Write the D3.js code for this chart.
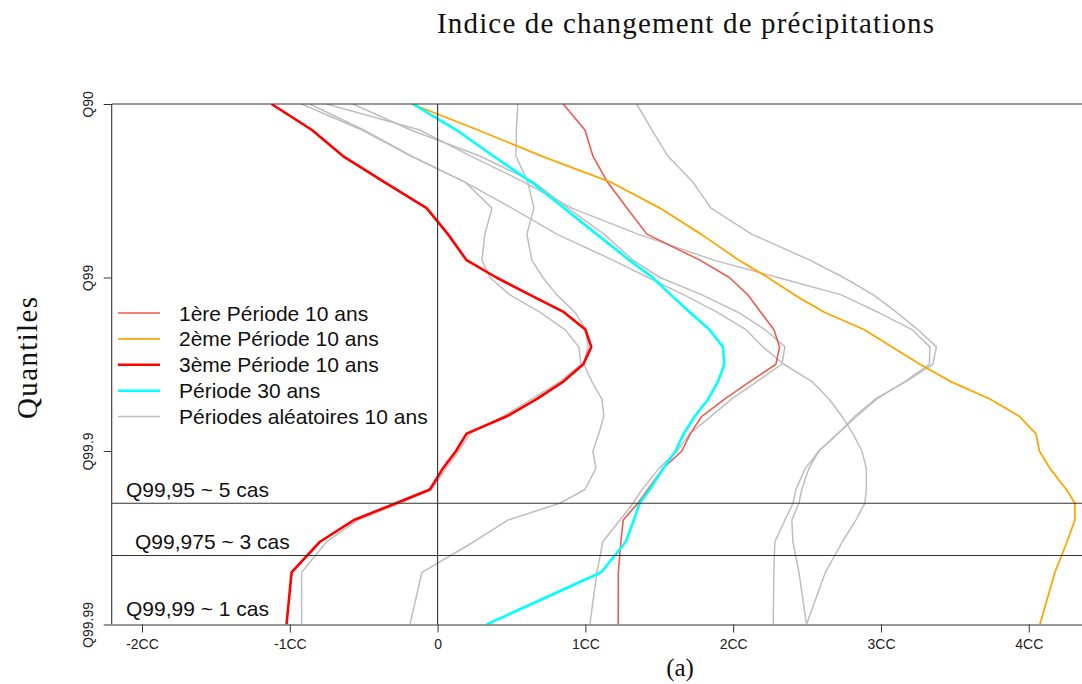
<!DOCTYPE html>
<html><head><meta charset="utf-8">
<script src="https://cdn.jsdelivr.net/npm/d3@7"></script>
<style>
html,body{margin:0;padding:0;background:#fff;}
svg text{font-family:"Liberation Sans",Arial,sans-serif;}
.serif{font-family:"Liberation Serif","Times New Roman",serif !important;}
</style></head>
<body>
<svg id="chart" width="1082" height="684"></svg>
<script>
// quantile levels expressed as -log10(1 - p)  (1 = Q90, 2 = Q99, 3 = Q99.9, 4 = Q99.99)
const levels = [1.0,1.15,1.3,1.45,1.6,1.75,1.9,2.0,2.1,2.2,2.3,2.4,2.5,2.6,2.7,2.8,2.9,3.0,3.1,3.222,3.301,3.398,3.523,3.699,4.0];

// change index (in CC units) at each level
const periode1 = [0.850,0.997,1.051,1.149,1.281,1.416,1.775,1.974,2.099,2.186,2.275,2.314,2.289,2.113,1.944,1.788,1.710,1.653,1.525,1.423,1.355,1.256,1.240,1.223,1.222];
const periode2 = [-0.174,0.273,0.704,1.170,1.504,1.782,2.039,2.235,2.414,2.617,2.884,3.075,3.263,3.473,3.737,3.936,4.048,4.072,4.143,4.254,4.312,4.312,4.259,4.177,4.075];
const periode3 = [-1.124,-0.850,-0.640,-0.360,-0.074,0.070,0.196,0.398,0.625,0.855,1.000,1.040,0.986,0.851,0.672,0.469,0.196,0.125,0.036,-0.052,-0.282,-0.566,-0.796,-0.988,-1.022];
const periode30 = [-0.167,0.128,0.377,0.635,0.855,1.075,1.298,1.455,1.579,1.707,1.839,1.930,1.940,1.897,1.832,1.740,1.666,1.610,1.528,1.436,1.367,1.328,1.274,1.108,0.332];

// random 10-year periods
const alea1 = [1.347,1.451,1.558,1.727,1.850,2.124,2.519,2.747,2.949,3.104,3.249,3.375,3.351,3.168,2.962,2.823,2.708,2.580,2.488,2.424,2.405,2.350,2.282,2.275,2.271];
const alea2 = [-0.751,-0.120,0.225,0.584,0.909,1.355,1.869,2.302,2.733,2.979,3.209,3.331,3.327,3.161,2.973,2.836,2.708,2.580,2.512,2.464,2.445,2.397,2.404,2.445,2.496];
const alea3 = [-0.920,-0.512,-0.181,0.185,0.503,0.807,1.186,1.423,1.667,1.890,2.086,2.201,2.343,2.533,2.648,2.736,2.810,2.871,2.901,2.901,2.891,2.830,2.739,2.624,2.496];
const alea4 = [-0.573,-0.181,0.286,0.652,0.882,1.126,1.322,1.504,1.789,2.032,2.215,2.350,2.329,2.160,1.991,1.849,1.707,1.619,1.498,1.383,1.322,1.234,1.118,1.078,1.030];
const alea5 = [0.543,0.533,0.530,0.611,0.652,0.604,0.638,0.712,0.807,0.929,1.003,1.017,0.990,1.044,1.111,1.125,1.091,1.051,1.071,0.997,0.827,0.476,0.246,-0.106,-0.187];
const alea6 = [-0.864,-0.499,-0.174,0.185,0.368,0.320,0.300,0.354,0.489,0.692,0.861,0.956,0.970,0.828,0.638,0.442,0.219,0.144,0.056,-0.039,-0.255,-0.539,-0.751,-0.920,-0.920];

const xTicks = [-2,-1,0,1,2,3,4];
const xTickLabels = ["-2CC","-1CC","0","1CC","2CC","3CC","4CC"];
const yTicks = [1,2,3,4];
const yTickLabels = ["Q90","Q99","Q99.9","Q99.99"];
const refLevels = [3.301, 3.602];
const refLabels = ["Q99,95 ~ 5 cas","Q99,975 ~ 3 cas","Q99,99 ~ 1 cas"];
const legendLabels = ["1ère Période 10 ans","2ème Période 10 ans","3ème Période 10 ans","Période 30 ans","Périodes aléatoires 10 ans"];
const legendColors = ["#EE5A52","#FFA500","#FF0000","#00FFFF","#BEBEBE"];
const legendWidths = [1.6,1.8,2.6,2.6,1.5];

const svg = d3.select("#chart");
const L = 111.7, R = 1082, T = 104, B = 624.5;
const x = d3.scaleLinear().domain([-2.205, 4.4]).range([L, 1087.9]);
const y = d3.scaleLinear().domain([1, 4]).range([T, B]);

svg.append("defs").append("clipPath").attr("id","clip")
  .append("rect").attr("x",L).attr("y",T).attr("width",R-L).attr("height",B-T);

const line = d3.line().x(d => x(d[0])).y(d => y(d[1]));
const g = svg.append("g").attr("clip-path","url(#clip)");

function draw(vals, color, w){
  g.append("path").datum(vals.map((v,i)=>[v, levels[i]]))
    .attr("d", line).attr("fill","none").attr("stroke",color)
    .attr("stroke-width", w).attr("stroke-linejoin","round");
}
[alea1,alea2,alea3,alea4,alea5,alea6].forEach(a => draw(a, "#BEBEBE", 1.5));
draw(periode1, legendColors[0], 1.6);
draw(periode2, legendColors[1], 1.8);
draw(periode3, legendColors[2], 2.6);
draw(periode30, legendColors[3], 2.6);

// frame and reference lines
const ax = svg.append("g").attr("stroke","#333").attr("stroke-width",1.1);
ax.append("line").attr("x1",L).attr("x2",R).attr("y1",T).attr("y2",T);
ax.append("line").attr("x1",L).attr("x2",L).attr("y1",T).attr("y2",B);
ax.append("line").attr("x1",x(0)).attr("x2",x(0)).attr("y1",T).attr("y2",B);
refLevels.forEach(t => ax.append("line").attr("x1",L).attr("x2",R).attr("y1",y(t)).attr("y2",y(t)));

// x axis
const xAxis = svg.append("g").attr("transform",`translate(0,${B})`)
  .call(d3.axisBottom(x).tickValues(xTicks).tickFormat((d,i)=>xTickLabels[i]).tickSize(8).tickPadding(7).tickSizeOuter(0));
xAxis.select(".domain").attr("d",`M${L},0.5H${R}`).attr("stroke","#333").attr("stroke-width",1.1);
xAxis.selectAll(".tick line").attr("stroke","#333");
xAxis.selectAll("text").attr("font-size",14).attr("fill","#222")
  .attr("font-family","'Liberation Sans',Arial,sans-serif");

// y axis
const yAxis = svg.append("g").attr("transform",`translate(${L},0)`)
  .call(d3.axisLeft(y).tickValues(yTicks).tickFormat((d,i)=>yTickLabels[i]).tickSize(8).tickSizeOuter(0));
yAxis.select(".domain").remove();
yAxis.selectAll(".tick line").attr("stroke","#333");
yAxis.selectAll(".tick text").attr("font-size",14).attr("fill","#222")
  .attr("text-anchor","middle").attr("x",null).attr("dy",null)
  .attr("transform","translate(-19,0) rotate(-90)");

// reference labels
const refPos = [[126,497],[135,549],[126,616]];
refLabels.forEach((s,i)=> svg.append("text").attr("x",refPos[i][0]).attr("y",refPos[i][1])
  .attr("font-size",21).attr("fill","#111").text(s));

// legend
legendLabels.forEach((s,i)=>{
  const cy = 313 + i*25.9;
  svg.append("line").attr("x1",118).attr("x2",160).attr("y1",cy).attr("y2",cy)
    .attr("stroke",legendColors[i]).attr("stroke-width",legendWidths[i]);
  svg.append("text").attr("x",179).attr("y",cy+7.5).attr("font-size",21).attr("fill","#111").text(s);
});

// titles
svg.append("text").attr("class","serif").attr("x",685.5).attr("y",33).attr("text-anchor","middle")
  .attr("font-size",29).attr("fill","#111").attr("textLength",497).attr("lengthAdjust","spacing")
  .text("Indice de changement de précipitations");
svg.append("text").attr("class","serif").attr("transform","translate(37,358) rotate(-90)")
  .attr("text-anchor","middle").attr("font-size",29).attr("fill","#111")
  .attr("textLength",122).attr("lengthAdjust","spacing").text("Quantiles");
svg.append("text").attr("class","serif").attr("x",680).attr("y",676).attr("text-anchor","middle")
  .attr("font-size",25).attr("fill","#111").text("(a)");
</script>
</body></html>
